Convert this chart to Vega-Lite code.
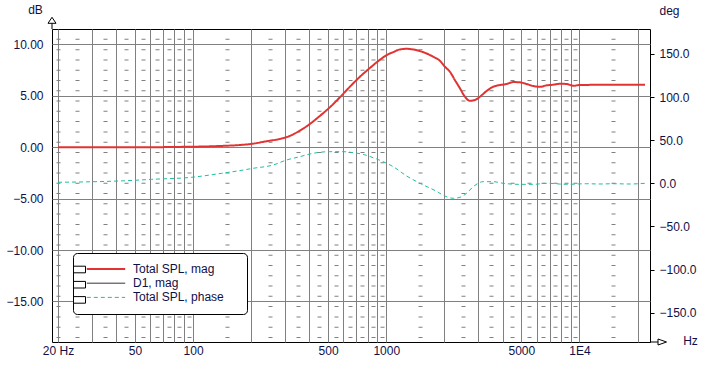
{
  "$schema": "https://vega.github.io/schema/vega-lite/v6.json",
  "width": 598,
  "height": 313,
  "autosize": {"type": "none"},
  "padding": {"left": 52, "top": 29, "right": 61, "bottom": 24},
  "background": "white",
  "config": {
    "font": "Liberation Sans",
    "view": {"stroke": "black", "strokeWidth": 1},
    "axis": {
      "labelFont": "Liberation Sans", "labelFontSize": 12, "labelColor": "#101048",
      "titleFont": "Liberation Sans", "titleFontSize": 12, "titleFontWeight": "normal", "titleColor": "#101048",
      "gridColor": "#808080", "gridOpacity": 1, "domain": false
    },
    "legend": {"labelFont": "Liberation Sans", "titleFont": "Liberation Sans"}
  },
  "datasets": {
    "mag": [
      {"f": 20, "db": 0, "series": "Total SPL, mag"},
      {"f": 40, "db": 0, "series": "Total SPL, mag"},
      {"f": 60, "db": 0, "series": "Total SPL, mag"},
      {"f": 85, "db": 0.03, "series": "Total SPL, mag"},
      {"f": 120, "db": 0.08, "series": "Total SPL, mag"},
      {"f": 143, "db": 0.13, "series": "Total SPL, mag"},
      {"f": 170, "db": 0.2, "series": "Total SPL, mag"},
      {"f": 200, "db": 0.32, "series": "Total SPL, mag"},
      {"f": 245, "db": 0.61, "series": "Total SPL, mag"},
      {"f": 281, "db": 0.8, "series": "Total SPL, mag"},
      {"f": 317, "db": 1.1, "series": "Total SPL, mag"},
      {"f": 357, "db": 1.61, "series": "Total SPL, mag"},
      {"f": 402, "db": 2.26, "series": "Total SPL, mag"},
      {"f": 453, "db": 3.04, "series": "Total SPL, mag"},
      {"f": 510, "db": 3.88, "series": "Total SPL, mag"},
      {"f": 575, "db": 4.85, "series": "Total SPL, mag"},
      {"f": 648, "db": 5.88, "series": "Total SPL, mag"},
      {"f": 730, "db": 6.85, "series": "Total SPL, mag"},
      {"f": 822, "db": 7.7, "series": "Total SPL, mag"},
      {"f": 926, "db": 8.5, "series": "Total SPL, mag"},
      {"f": 1004, "db": 8.96, "series": "Total SPL, mag"},
      {"f": 1086, "db": 9.25, "series": "Total SPL, mag"},
      {"f": 1176, "db": 9.51, "series": "Total SPL, mag"},
      {"f": 1274, "db": 9.57, "series": "Total SPL, mag"},
      {"f": 1378, "db": 9.51, "series": "Total SPL, mag"},
      {"f": 1493, "db": 9.35, "series": "Total SPL, mag"},
      {"f": 1617, "db": 9.12, "series": "Total SPL, mag"},
      {"f": 1750, "db": 8.8, "series": "Total SPL, mag"},
      {"f": 1895, "db": 8.41, "series": "Total SPL, mag"},
      {"f": 2012, "db": 7.83, "series": "Total SPL, mag"},
      {"f": 2135, "db": 7.34, "series": "Total SPL, mag"},
      {"f": 2266, "db": 6.53, "series": "Total SPL, mag"},
      {"f": 2406, "db": 5.73, "series": "Total SPL, mag"},
      {"f": 2554, "db": 4.91, "series": "Total SPL, mag"},
      {"f": 2710, "db": 4.52, "series": "Total SPL, mag"},
      {"f": 2877, "db": 4.59, "series": "Total SPL, mag"},
      {"f": 3053, "db": 4.91, "series": "Total SPL, mag"},
      {"f": 3307, "db": 5.47, "series": "Total SPL, mag"},
      {"f": 3577, "db": 5.88, "series": "Total SPL, mag"},
      {"f": 3876, "db": 6.05, "series": "Total SPL, mag"},
      {"f": 4198, "db": 6.15, "series": "Total SPL, mag"},
      {"f": 4542, "db": 6.34, "series": "Total SPL, mag"},
      {"f": 4919, "db": 6.31, "series": "Total SPL, mag"},
      {"f": 5328, "db": 6.15, "series": "Total SPL, mag"},
      {"f": 5766, "db": 5.95, "series": "Total SPL, mag"},
      {"f": 6246, "db": 5.88, "series": "Total SPL, mag"},
      {"f": 6765, "db": 6.02, "series": "Total SPL, mag"},
      {"f": 7316, "db": 6.08, "series": "Total SPL, mag"},
      {"f": 7925, "db": 6.17, "series": "Total SPL, mag"},
      {"f": 8584, "db": 6.15, "series": "Total SPL, mag"},
      {"f": 9288, "db": 5.98, "series": "Total SPL, mag"},
      {"f": 10060, "db": 6.05, "series": "Total SPL, mag"},
      {"f": 14960, "db": 6.08, "series": "Total SPL, mag"},
      {"f": 21840, "db": 6.08, "series": "Total SPL, mag"}
    ],
    "phase": [
      {"f": 20, "deg": 1.2, "series": "Total SPL, phase"},
      {"f": 30, "deg": 1.8, "series": "Total SPL, phase"},
      {"f": 45, "deg": 3.0, "series": "Total SPL, phase"},
      {"f": 61, "deg": 4.6, "series": "Total SPL, phase"},
      {"f": 98.5, "deg": 7.0, "series": "Total SPL, phase"},
      {"f": 140.8, "deg": 11.6, "series": "Total SPL, phase"},
      {"f": 178.8, "deg": 15.1, "series": "Total SPL, phase"},
      {"f": 204.5, "deg": 17.4, "series": "Total SPL, phase"},
      {"f": 259.6, "deg": 21.2, "series": "Total SPL, phase"},
      {"f": 304.5, "deg": 27.0, "series": "Total SPL, phase"},
      {"f": 356.9, "deg": 30.9, "series": "Total SPL, phase"},
      {"f": 418, "deg": 34.8, "series": "Total SPL, phase"},
      {"f": 510, "deg": 36.7, "series": "Total SPL, phase"},
      {"f": 598, "deg": 36.7, "series": "Total SPL, phase"},
      {"f": 674, "deg": 35.5, "series": "Total SPL, phase"},
      {"f": 759, "deg": 33.6, "series": "Total SPL, phase"},
      {"f": 855, "deg": 29.7, "series": "Total SPL, phase"},
      {"f": 964, "deg": 25.1, "series": "Total SPL, phase"},
      {"f": 1086, "deg": 19.3, "series": "Total SPL, phase"},
      {"f": 1274, "deg": 8.5, "series": "Total SPL, phase"},
      {"f": 1493, "deg": 0, "series": "Total SPL, phase"},
      {"f": 1857, "deg": -10.4, "series": "Total SPL, phase"},
      {"f": 1934, "deg": -12.8, "series": "Total SPL, phase"},
      {"f": 2221, "deg": -17.4, "series": "Total SPL, phase"},
      {"f": 2406, "deg": -16.2, "series": "Total SPL, phase"},
      {"f": 2605, "deg": -11.6, "series": "Total SPL, phase"},
      {"f": 2818, "deg": -3.9, "series": "Total SPL, phase"},
      {"f": 3176, "deg": 1.9, "series": "Total SPL, phase"},
      {"f": 3577, "deg": 1.9, "series": "Total SPL, phase"},
      {"f": 4031, "deg": 0, "series": "Total SPL, phase"},
      {"f": 4919, "deg": -1.2, "series": "Total SPL, phase"},
      {"f": 5766, "deg": -1.2, "series": "Total SPL, phase"},
      {"f": 6765, "deg": 0, "series": "Total SPL, phase"},
      {"f": 8584, "deg": -1.2, "series": "Total SPL, phase"},
      {"f": 10897, "deg": -0.5, "series": "Total SPL, phase"},
      {"f": 12772, "deg": -0.8, "series": "Total SPL, phase"},
      {"f": 14960, "deg": -0.5, "series": "Total SPL, phase"},
      {"f": 18260, "deg": -0.8, "series": "Total SPL, phase"},
      {"f": 21840, "deg": 0, "series": "Total SPL, phase"}
    ],
    "boxes": [{"box": "1"}, {"box": "2"}, {"box": "3"}]
  },
  "layer": [
    {
      "data": {"name": "phase"},
      "mark": {"type": "line", "strokeWidth": 1, "interpolate": "monotone"},
      "encoding": {
        "x": {
          "field": "f", "type": "quantitative",
          "scale": {"type": "log", "domain": [18.61, 23180], "nice": false, "zero": false},
          "axis": {
            "orient": "bottom",
            "values": [20, 25, 35, 45, 55, 65, 75, 85, 95, 150, 250, 350, 450, 550, 650, 750, 850, 950, 1500, 2500, 3500, 4500, 5500, 6500, 7500, 8500, 9500, 15000],
            "grid": true, "gridWidth": 4, "gridDash": [1, 9.279], "gridDashOffset": 0.911, "gridColor": "#808080",
            "labels": false, "ticks": false, "domain": false, "title": null
          }
        },
        "y": {
          "field": "deg", "type": "quantitative",
          "scale": {"domain": [-184.1, 179.0], "nice": false, "zero": false},
          "axis": {
            "orient": "right", "values": [-150, -100, -50, 0, 50, 100, 150], "format": ".1f",
            "grid": false, "ticks": true, "tickSize": 4, "tickColor": "black", "domain": false,
            "labelPadding": 5, "title": "deg", "titleAngle": 0, "titleX": 19, "titleY": -19,
            "titleAlign": "center", "titleBaseline": "middle"
          }
        },
        "color": {"field": "series", "type": "nominal",
          "scale": {"domain": ["Total SPL, mag", "D1, mag", "Total SPL, phase"], "range": ["#e23232", "#2a1a2a", "#1fbf9f"]}},
        "strokeDash": {"field": "series", "type": "nominal",
          "scale": {"domain": ["Total SPL, mag", "D1, mag", "Total SPL, phase"], "range": [[1, 0], [1, 0], [4, 3]]}}
      }
    },
    {
      "data": {"name": "mag"},
      "mark": {"type": "line", "strokeWidth": 2, "interpolate": "monotone"},
      "encoding": {
        "x": {
          "field": "f", "type": "quantitative",
          "scale": {"type": "log", "domain": [18.61, 23180], "nice": false, "zero": false},
          "axis": {
            "orient": "bottom",
            "values": [20, 30, 40, 50, 60, 70, 80, 90, 100, 200, 300, 400, 500, 600, 700, 800, 900, 1000, 2000, 3000, 4000, 5000, 6000, 7000, 8000, 9000, 10000, 20000],
            "labelExpr": "datum.value == 20 ? '20 Hz' : datum.value == 50 ? '50' : datum.value == 100 ? '100' : datum.value == 500 ? '500' : datum.value == 1000 ? '1000' : datum.value == 5000 ? '5000' : datum.value == 10000 ? '1E4' : ''",
            "grid": true, "ticks": false, "domain": false, "labelPadding": 3,
            "labelOverlap": false, "labelFlush": false, "labelBound": false,
            "title": "Hz", "titleX": 638, "titleY": -2, "titleAlign": "center", "titleBaseline": "middle", "titleAngle": 0
          }
        },
        "y": {
          "field": "db", "type": "quantitative",
          "scale": {"domain": [-18.95, 11.5], "nice": false, "zero": false},
          "axis": {
            "orient": "left", "values": [-15, -10, -5, 0, 5, 10], "format": ".2f",
            "grid": true, "ticks": false, "domain": false, "labelPadding": 9,
            "title": "dB", "titleAngle": 0, "titleX": -17, "titleY": -19.5,
            "titleAlign": "center", "titleBaseline": "middle"
          }
        },
        "color": {"field": "series", "type": "nominal",
          "scale": {"domain": ["Total SPL, mag", "D1, mag", "Total SPL, phase"], "range": ["#e23232", "#2a1a2a", "#1fbf9f"]},
          "legend": {
            "orient": "none", "legendX": 21, "legendY": 224, "direction": "vertical",
            "title": ".", "titleOrient": "right", "titleOpacity": 0, "titlePadding": 9, "titleFontSize": 12,
            "padding": 10, "fillColor": "white", "strokeColor": "black", "cornerRadius": 4,
            "symbolType": "M-3.2,0H3.2", "symbolSize": 144, "symbolOffset": 17,
            "labelOffset": 21, "labelFontSize": 12, "labelColor": "#101048", "labelLimit": 400,
            "rowPadding": 2.2,
            "encode": {"symbols": {"update": {"strokeWidth": {"signal": "datum.value === 'Total SPL, mag' ? 2 : 1"}}}}
          }
        },
        "strokeDash": {"field": "series", "type": "nominal",
          "scale": {"domain": ["Total SPL, mag", "D1, mag", "Total SPL, phase"], "range": [[1, 0], [1, 0], [4, 3]]}}
      }
    },
    {
      "data": {"name": "boxes"},
      "mark": {"type": "point", "opacity": 0},
      "encoding": {
        "shape": {"field": "box", "type": "nominal",
          "scale": {"domain": ["1", "2", "3"], "range": ["M-1,-0.55H1V0.55H-1Z", "M-1,-0.55H1V0.55H-1Z", "M-1,-0.55H1V0.55H-1Z"]},
          "legend": {
            "orient": "none", "legendX": 21, "legendY": 224, "title": null, "direction": "vertical",
            "padding": 10, "symbolSize": 144, "symbolOffset": -10,
            "symbolFillColor": "white", "symbolStrokeColor": "black", "symbolStrokeWidth": 1, "symbolOpacity": 1,
            "labelOpacity": 0, "labelOffset": 21, "labelFontSize": 12, "rowPadding": 2.2
          }
        }
      }
    },
    {
      "data": {"values": [{}]},
      "mark": {"type": "point", "shape": "M0,-2.34L0.8,-1.14L-0.8,-1.14Z M0,-1.14V0", "size": 100, "filled": true, "fill": "white", "stroke": "black", "strokeWidth": 1, "opacity": 1},
      "encoding": {
        "x": {"datum": 18.61, "type": "quantitative", "axis": null},
        "y": {"datum": 11.5, "type": "quantitative", "scale": {"domain": [-18.95, 11.5], "nice": false, "zero": false}, "axis": null}
      }
    },
    {
      "data": {"values": [{}]},
      "mark": {"type": "point", "shape": "M0,0H1.6 M1.6,-0.6L3.3,0L1.6,0.6Z", "size": 100, "filled": true, "fill": "white", "stroke": "black", "strokeWidth": 1, "opacity": 1},
      "encoding": {
        "x": {"datum": 23180, "type": "quantitative", "axis": null},
        "y": {"datum": -18.95, "type": "quantitative", "scale": {"domain": [-18.95, 11.5], "nice": false, "zero": false}, "axis": null}
      }
    }
  ],
  "resolve": {"scale": {"y": "independent"}, "axis": {"x": "independent"}}
}
